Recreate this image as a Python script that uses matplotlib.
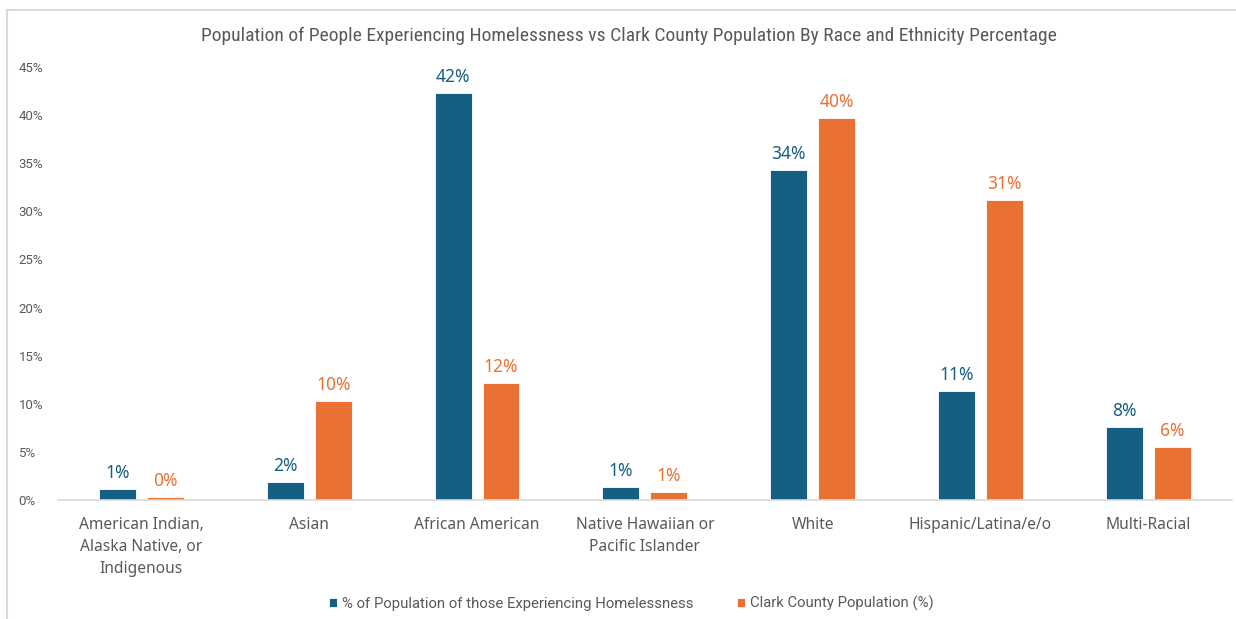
import matplotlib
matplotlib.use("Agg")
import matplotlib.pyplot as plt
from matplotlib.patches import Rectangle
import numpy as np

categories = [
    "American Indian,\nAlaska Native, or\nIndigenous",
    "Asian",
    "African American",
    "Native Hawaiian or\nPacific Islander",
    "White",
    "Hispanic/Latina/e/o",
    "Multi-Racial",
]
homeless_pct = [1.15, 1.9, 42.3, 1.35, 34.3, 11.3, 7.6]
county_pct = [0.3, 10.3, 12.2, 0.8, 39.7, 31.2, 5.5]
series_names = [
    "% of Population of those Experiencing Homelessness",
    "Clark County Population (%)",
]
title = "Population of People Experiencing Homelessness vs Clark County Population By Race and Ethnicity Percentage"

BLUE = "#156082"
ORANGE = "#E97132"
GRAY_TEXT = "#595959"
AXIS_GRAY = "#D9D9D9"

body_font = ["Noto Sans", "DejaVu Sans"]
plain_font = ["Roboto", "DejaVu Sans"]
narrow_font = ["Roboto Condensed", "Liberation Sans Narrow", "Liberation Sans", "DejaVu Sans"]

fig = plt.figure(figsize=(12.36, 6.19), dpi=100)
ax = fig.add_axes([0.0466, 0.1922, 0.9502, 0.6996])

x = np.arange(len(categories))
w = 0.22
off = 0.143
b1 = ax.bar(x - off, homeless_pct, width=w, color=BLUE, edgecolor="white", linewidth=0.6)
b2 = ax.bar(x + off, county_pct, width=w, color=ORANGE, edgecolor="white", linewidth=0.6)

for bars, vals, col in [(b1, homeless_pct, BLUE), (b2, county_pct, ORANGE)]:
    for r, v in zip(bars, vals):
        ax.annotate(f"{round(v):.0f}%", (r.get_x() + r.get_width() / 2, v),
                    xytext=(0, 5), textcoords="offset points",
                    ha="center", va="bottom", fontsize=12.5, color=col,
                    family=body_font)

ax.set_xlim(-0.5, len(categories) - 0.5)
ax.set_ylim(0, 45)
ax.set_yticks(np.arange(0, 46, 5))
ax.set_yticklabels([f"{t}%" for t in range(0, 46, 5)], family=plain_font,
                   fontsize=9.5, color=GRAY_TEXT)
ax.set_xticks(x)
ax.set_xticklabels(categories, family=body_font, fontsize=11.2, color=GRAY_TEXT,
                   linespacing=1.5)
ax.tick_params(axis="both", length=0)
ax.tick_params(axis="x", pad=12)
ax.tick_params(axis="y", pad=28)
for t in ax.get_yticklabels():
    t.set_horizontalalignment("left")

for s in ["top", "right", "left"]:
    ax.spines[s].set_visible(False)
ax.spines["bottom"].set_color(AXIS_GRAY)
ax.spines["bottom"].set_linewidth(1.2)

fig.text(0.509, 0.942, title, ha="center", va="center", fontsize=14,
         color=GRAY_TEXT, family=narrow_font)

leg = fig.legend([b1, b2], series_names, loc="center", bbox_to_anchor=(0.511, 0.025),
                 ncol=2, frameon=False, handlelength=0.55, handleheight=0.55,
                 handletextpad=0.35, columnspacing=2.9,
                 prop={"family": plain_font, "size": 10.7})
for t in leg.get_texts():
    t.set_color(GRAY_TEXT)

fig.patches.append(Rectangle((7 / 1236, -0.1), 1.2, 1 - 10 / 619 + 0.1,
                             transform=fig.transFigure, fill=False,
                             edgecolor=AXIS_GRAY, linewidth=1.5))

fig.savefig("out.png", dpi=100)
